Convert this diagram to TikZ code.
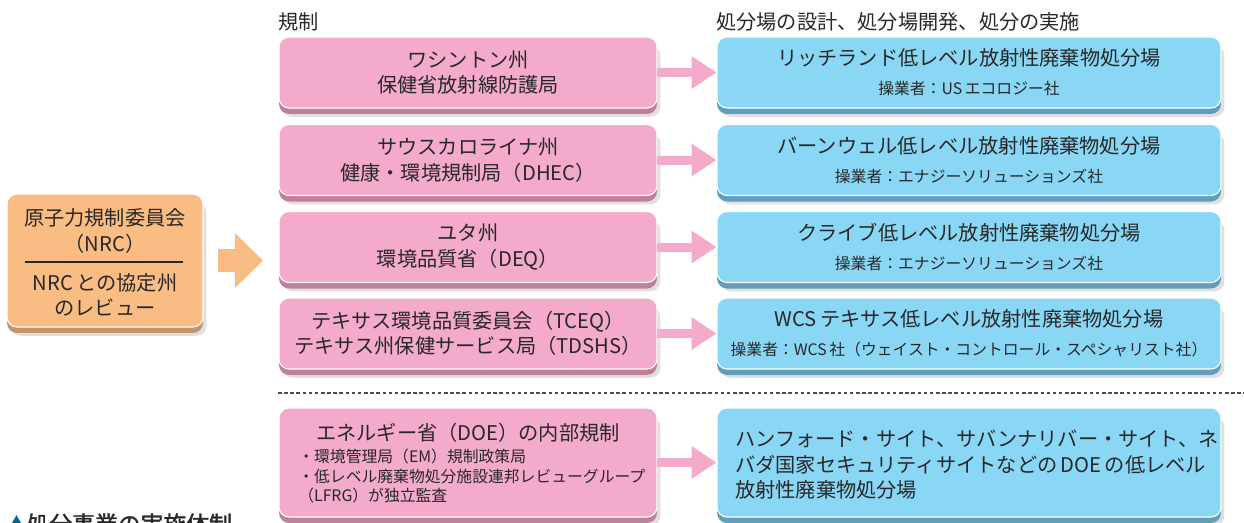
\documentclass[tikz,border=0pt]{standalone}
\usepackage{fontspec}
\setmainfont{Noto Sans CJK JP}
\newfontfamily\headfont{Noto Sans CJK JP}[FakeBold=1.5]
\usetikzlibrary{arrows.meta}
\usetikzlibrary{shadows}

\definecolor{textgray}{RGB}{40,40,40}
\definecolor{pinkfill}{RGB}{243,170,203}
\definecolor{pinkdark}{RGB}{192,128,156}
\definecolor{bluefill}{RGB}{138,214,245}
\definecolor{bluedark}{RGB}{98,158,188}
\definecolor{orangefill}{RGB}{249,188,131}
\definecolor{orangedark}{RGB}{198,148,104}
\definecolor{markblue}{RGB}{0,104,150}

\begin{document}
\begin{tikzpicture}
	[x=0.02cm,y=-0.02cm,
	 every node/.style={text=textgray,inner sep=0pt,font=\fontsize{11.5}{14.5}\selectfont},
	 box/.style={rounded corners=0.2cm, draw=white, line width=0.6pt,
		general shadow={fill=black, opacity=0.12, shadow xshift=2pt, shadow yshift=-5pt},
		general shadow={fill=#1, shadow yshift=-0.12cm}},
	 regbox/.style={box=pinkdark, fill=pinkfill, minimum width=7.56cm, minimum height=1.42cm, align=center},
	 sitebox/.style={box=bluedark, fill=bluefill, minimum width=10.08cm, minimum height=1.42cm, align=center},
	 pinkarrow/.style={draw=pinkfill, line width=0.18cm, -{Triangle[length=0.5cm,width=0.62cm]}}]
	\useasboundingbox (0,0) rectangle (1244,522);

	%titles
	\node (titleReg) [anchor=west] at (278,22) {規制};
	\node (titleSite) [anchor=west] at (716,22) {処分場の設計、処分場開発、処分の実施};

	%NRC
	\node (nrc) [box=orangedark, fill=orangefill, minimum width=3.92cm, minimum height=2.66cm] at (105,260.5) {};
	\node (nrcA) [align=center] at (105,231) {原子力規制委員会\\（NRC）};
	\node (nrcB) [align=center] at (105,295) {NRC\,との協定州\\のレビュー};
	\draw[textgray, line width=1pt] (25,262) -- (183,262);
	\coordinate (nrcTip) at (263,260.5);
	\draw[draw=orangefill, line width=0.46cm, shorten <=0.28cm, -{Triangle[length=0.56cm,width=1.06cm]}] (nrc) -- (nrcTip);

	%regulators
	\node (regA) [regbox] at (468,72.5) {ワシントン州\\保健省放射線防護局};
	\node (regB) [regbox] at (468,160) {サウスカロライナ州\\健康・環境規制局（DHEC）};
	\node (regC) [regbox] at (468,247) {ユタ州\\環境品質省（DEQ）};
	\node (regD) [regbox] at (468,333.5) {テキサス環境品質委員会（TCEQ）\\テキサス州保健サービス局（TDSHS）};
	\node (regE) [regbox, minimum height=2.18cm] at (468,462.5) {};
	\node (regEtitle) at (468,433) {エネルギー省（DOE）の内部規制};
	\node (regEnote) [anchor=north west, align=left, font=\small] at (298,449) {・環境管理局（EM）規制政策局\\・低レベル廃棄物処分施設連邦レビューグループ\\（LFRG）が独立監査};

	%disposal sites
	\node (siteA) [sitebox] at (969,72.5) {リッチランド低レベル放射性廃棄物処分場\\[2pt]{\small 操業者：US\,エコロジー社}};
	\node (siteB) [sitebox] at (969,160) {バーンウェル低レベル放射性廃棄物処分場\\[2pt]{\small 操業者：エナジーソリューションズ社}};
	\node (siteC) [sitebox] at (969,247) {クライブ低レベル放射性廃棄物処分場\\[2pt]{\small 操業者：エナジーソリューションズ社}};
	\node (siteD) [sitebox] at (969,333.5) {WCS\,テキサス低レベル放射性廃棄物処分場\\[2pt]{\small 操業者：WCS\,社（ウェイスト・コントロール・スペシャリスト社）}};
	\node (siteE) [sitebox, minimum height=2.18cm] at (969,462.5) {};
	\node (siteEtext) [anchor=west, align=left] at (735,465) {ハンフォード・サイト、サバンナリバー・サイト、ネ\\バダ国家セキュリティサイトなどの\,DOE\,の低レベル\\放射性廃棄物処分場};

	%arrows
	\draw[pinkarrow] (regA) -- (siteA);
	\draw[pinkarrow] (regB) -- (siteB);
	\draw[pinkarrow] (regC) -- (siteC);
	\draw[pinkarrow] (regD) -- (siteD);
	\draw[pinkarrow] (regE) -- (siteE);

	%separator
	\draw[black!70, line width=0.6pt, dash pattern=on 2pt off 1.5pt] (278,393) -- (1244,393);

	%caption
	\node (caption) [anchor=west, font=\headfont\fontsize{13}{15}\selectfont] at (10,524) {\raisebox{4pt}{\color{markblue}\fontsize{7}{7}\selectfont ▲}\,処分事業の実施体制};
\end{tikzpicture}
\end{document}
